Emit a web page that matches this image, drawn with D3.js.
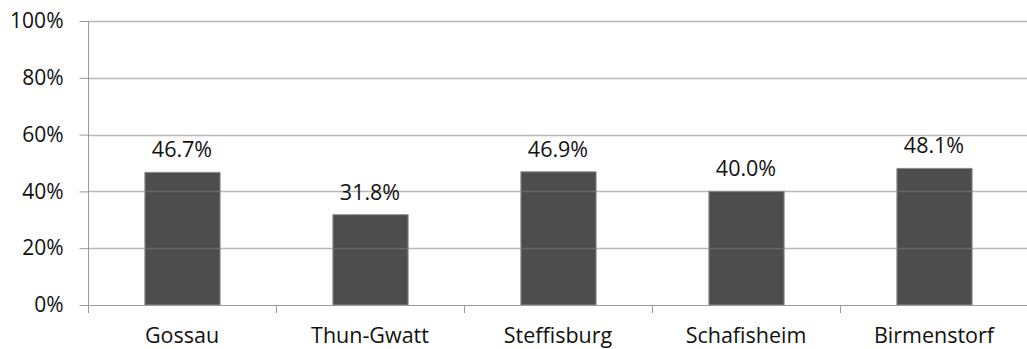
<!DOCTYPE html>
<html><head><meta charset="utf-8">
<script src="https://cdn.jsdelivr.net/npm/d3@7"></script>
<style>html,body{margin:0;padding:0;background:#fff;}svg{display:block;}</style>
</head><body>
<svg id="chart" width="1027" height="349"></svg>
<script>
const categories = ["Gossau", "Thun-Gwatt", "Steffisburg", "Schafisheim", "Birmenstorf"];
const values = [46.7, 31.8, 46.9, 40.0, 48.1];
const valueLabels = ["46.7%", "31.8%", "46.9%", "40.0%", "48.1%"];
const yTicks = [0, 20, 40, 60, 80, 100];

(function () {
const svg = d3.select("#chart");
const FONT = "'Open Sans', sans-serif";
const pLeft = 88, pRight = 1028, pTop = 21, pBottom = 305;

const x = d3.scaleBand().domain(categories).range([pLeft, pRight]).paddingInner(0.6).paddingOuter(0.3);
const xb = d3.scaleBand().domain(categories).range([pLeft, pRight]);
const y = d3.scaleLinear().domain([0, 100]).range([pBottom, pTop]);

const axisColor = "#9a9a9a";

// bars
svg.append("g").selectAll("rect").data(values).join("rect")
  .attr("x", (d, i) => x(categories[i]) + 0.5)
  .attr("y", d => y(d))
  .attr("width", x.bandwidth())
  .attr("height", d => y(0) - y(d))
  .attr("fill", "#4d4d4d")
  .attr("stroke", "#8c8c8c")
  .attr("stroke-width", 1);

// gridlines (over bars, semi-transparent)
svg.append("g").selectAll("line").data(yTicks.filter(t => t > 0)).join("line")
  .attr("x1", pLeft).attr("x2", 1027)
  .attr("y1", d => Math.round(y(d)) + 0.5).attr("y2", d => Math.round(y(d)) + 0.5)
  .attr("stroke", "#808080").attr("stroke-opacity", 0.55).attr("stroke-width", 1.5);

// y axis
const yAxis = d3.axisLeft(y).tickValues(yTicks).tickFormat(d => d + "%").tickSize(9).tickPadding(16);
const gy = svg.append("g").attr("transform", `translate(${pLeft + 0.5},0)`).call(yAxis);
gy.select(".domain").remove();
gy.selectAll(".tick line").attr("stroke", axisColor);
gy.selectAll(".tick text").attr("font-family", FONT).attr("font-size", 21).attr("fill", "#111");
svg.append("line").attr("x1", pLeft + 0.5).attr("x2", pLeft + 0.5).attr("y1", pTop).attr("y2", pBottom + 8)
  .attr("stroke", axisColor);

// x axis
svg.append("line").attr("x1", pLeft).attr("x2", 1027).attr("y1", Math.round(y(0)) + 0.5).attr("y2", Math.round(y(0)) + 0.5)
  .attr("stroke", axisColor).attr("stroke-width", 1.2);
svg.append("g").selectAll("line").data(categories.slice(1)).join("line")
  .attr("x1", d => Math.round(xb(d)) + 0.5).attr("x2", d => Math.round(xb(d)) + 0.5)
  .attr("y1", pBottom).attr("y2", pBottom + 8).attr("stroke", axisColor);

svg.append("g").selectAll("text").data(categories).join("text")
  .attr("x", d => xb(d) + xb.bandwidth() / 2)
  .attr("y", 343)
  .attr("text-anchor", "middle")
  .attr("font-family", FONT).attr("font-size", 21.5).attr("fill", "#111")
  .text(d => d);

// value labels
svg.append("g").selectAll("text").data(values).join("text")
  .attr("x", (d, i) => xb(categories[i]) + xb.bandwidth() / 2)
  .attr("y", d => y(d) - 15)
  .attr("text-anchor", "middle")
  .attr("font-family", FONT).attr("font-size", 21.5).attr("fill", "#111")
  .text((d, i) => valueLabels[i]);
})();
</script>
</body></html>
